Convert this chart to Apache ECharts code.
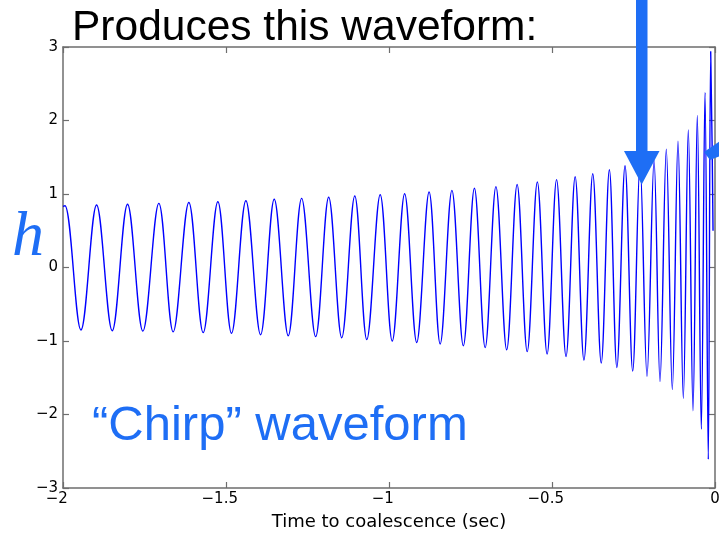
<!DOCTYPE html>
<html>
<head>
<meta charset="utf-8">
<script src="https://cdn.jsdelivr.net/npm/echarts@6/dist/echarts.min.js"></script>
<style>
  html, body { margin: 0; padding: 0; background: #ffffff; }
  #chart { width: 719px; height: 533px; }
</style>
</head>
<body>
<div id="chart"></div>
<script>
// Turning points of the chirp signal: time before merger (s) and strain h
const timeSec = [
  -2.000, -1.994, -1.945, -1.897, -1.849, -1.802, -1.755, -1.706, -1.662, -1.614,
  -1.570, -1.525, -1.483, -1.439, -1.394, -1.352, -1.309, -1.268, -1.225, -1.185,
  -1.145, -1.105, -1.068, -1.027, -0.990, -0.952, -0.915, -0.877, -0.843, -0.807,
  -0.772, -0.738, -0.705, -0.672, -0.639, -0.607, -0.576, -0.545, -0.515, -0.486,
  -0.457, -0.429, -0.402, -0.375, -0.349, -0.324, -0.301, -0.276, -0.2525, -0.230,
  -0.2086, -0.187, -0.1687, -0.1494, -0.131, -0.1135, -0.0972, -0.0819, -0.0675, -0.0543,
  -0.042, -0.0307, -0.0206, -0.0132, -0.006
];
const strain = [
  0.83, 0.84, -0.85, 0.85, -0.86, 0.86, -0.865, 0.873, -0.875, 0.885,
  -0.885, 0.895, -0.895, 0.909, -0.914, 0.928, -0.928, 0.94, -0.94, 0.955,
  -0.955, 0.973, -0.98, 0.99, -1.0, 1.004, -1.02, 1.027, -1.04, 1.05,
  -1.064, 1.078, -1.09, 1.1, -1.12, 1.13, -1.145, 1.163, -1.177, 1.195,
  -1.21, 1.235, -1.26, 1.276, -1.30, 1.33, -1.36, 1.385, -1.41, 1.43,
  -1.48, 1.46, -1.55, 1.61, -1.66, 1.72, -1.78, 1.87, -1.95, 2.07,
  -2.2, 2.38, -2.61, 2.94, 0.5
];

// Axis tick labels (MATLAB-style minus sign)
const xTickLabels = ['−2', '−1.5', '−1', '−0.5', '0'];
const yTickLabels = ['−3', '−2', '−1', '0', '1', '2', '3'];

const titleText = 'Produces this waveform:';
const chirpText = '\u201CChirp\u201D waveform';
const xAxisName = 'Time to coalescence (sec)';

const accent = '#1e6ef5';
const frame = '#6e6e6e';
const tickFamily = '"DejaVu Sans", Verdana, sans-serif';

const chart = echarts.init(document.getElementById('chart'), null, { renderer: 'canvas' });

const boxAxis = (pos, extra) => Object.assign({
  position: pos,
  axisLine: { show: true, onZero: false, lineStyle: { color: frame, width: 1.5 } },
  axisTick: { show: true, inside: true, length: 6, lineStyle: { color: frame, width: 1.2 } },
  splitLine: { show: false }
}, extra);

// Negative x labels keep their digits centred on the tick, minus hanging left
const xLabel = v => {
  const s = xTickLabels[Math.round((v + 2) / 0.5)];
  return s.charAt(0) === '−' ? '{neg|' + s + '}' : '{pos|' + s + '}';
};

chart.setOption({
  animation: false,
  backgroundColor: '#ffffff',
  grid: { left: 63, top: 47, right: 4, bottom: 45, containLabel: false, outerBoundsMode: 'none' },
  xAxis: [
    boxAxis('bottom', {
      type: 'value', min: -2, max: 0, interval: 0.5,
      name: xAxisName, nameLocation: 'middle', nameGap: 25,
      nameTextStyle: { color: '#000', fontFamily: tickFamily, fontSize: 18 },
      axisLabel: {
        margin: 4,
        color: '#000', fontFamily: tickFamily, fontSize: 15,
        formatter: xLabel,
        rich: {
          neg: { color: '#000', fontFamily: tickFamily, fontSize: 15, padding: [0, 12.5, 0, 0] },
          pos: { color: '#000', fontFamily: tickFamily, fontSize: 15 }
        }
      }
    }),
    boxAxis('top', {
      type: 'value', min: -2, max: 0, interval: 0.5,
      axisLabel: { show: false }
    })
  ],
  yAxis: [
    boxAxis('left', {
      type: 'value', min: -3, max: 3, interval: 1,
      axisLabel: {
        margin: 5,
        color: '#000', fontFamily: tickFamily, fontSize: 15,
        formatter: v => yTickLabels[Math.round(v + 3)]
      }
    }),
    boxAxis('right', {
      type: 'value', min: -3, max: 3, interval: 1,
      axisLabel: { show: false }
    })
  ],
  series: [{
    type: 'line',
    xAxisIndex: 0,
    yAxisIndex: 0,
    data: timeSec.map((t, i) => [t, strain[i]]),
    showSymbol: false,
    smooth: 0.36,
    lineStyle: { color: '#0000ff', width: 1.4 },
    z: 2
  }],
  graphic: [
    {
      type: 'text', x: 72, y: 28, z: 10,
      style: { text: titleText, font: '42.5px "Liberation Sans", Arial, sans-serif', fill: '#000', textAlign: 'left', textVerticalAlign: 'middle' }
    },
    {
      type: 'text', x: 12, y: 238, z: 10,
      style: { text: 'h', font: 'italic 64px "Liberation Serif", "Times New Roman", serif', fill: accent, textAlign: 'left', textVerticalAlign: 'middle' }
    },
    {
      type: 'text', x: 92, y: 426, z: 10,
      style: { text: chirpText, font: '49px "Liberation Sans", Arial, sans-serif', fill: accent, textAlign: 'left', textVerticalAlign: 'middle' }
    },
    // downward pointer
    {
      type: 'rect', z: 10,
      shape: { x: 636, y: 0, width: 11.5, height: 152 },
      style: { fill: accent }
    },
    {
      type: 'polygon', z: 10,
      shape: { points: [[624, 151], [659.5, 151], [641.7, 184.5]] },
      style: { fill: accent }
    },
    // pointer entering from the right edge
    {
      type: 'polygon', z: 10,
      shape: { points: [[704, 152], [720, 141], [720, 156], [710, 160]] },
      style: { fill: accent }
    }
  ]
});
</script>
</body>
</html>
